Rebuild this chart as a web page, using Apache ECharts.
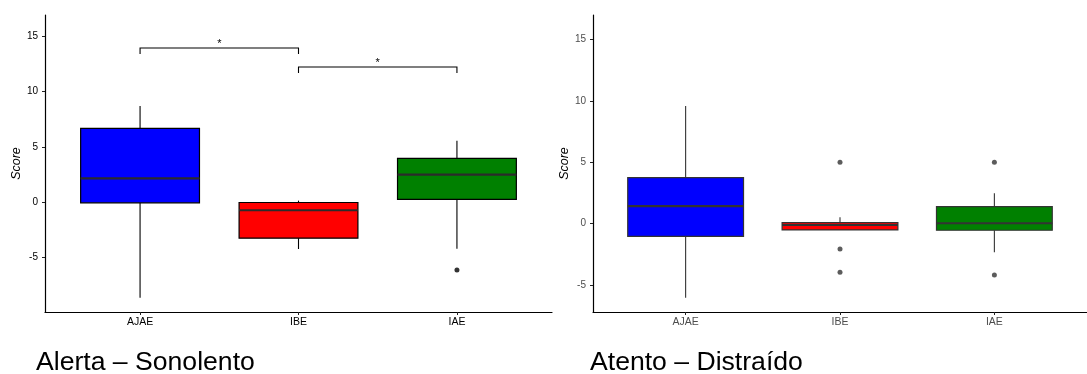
<!DOCTYPE html>
<html>
<head>
<meta charset="utf-8">
<script src="https://cdn.jsdelivr.net/npm/echarts@6/dist/echarts.min.js"></script>
<style>
  html, body { margin: 0; padding: 0; background: #ffffff; }
  #chart { width: 1087px; height: 374px; }
</style>
</head>
<body>
<div id="chart"></div>
<script>
// Groups shown on the x axis (positions 1, 2, 3)
const categories = ['AJAE', 'IBE', 'IAE'];
const boxColors = ['#0000FF', '#FF0000', '#008000'];
const yTicks = [-5, 0, 5, 10, 15];

// Alerta – Sonolento: [lower whisker, Q1, median, Q3, upper whisker] per group
const alertaBoxes = [
  [-8.62, -0.05, 2.17, 6.68, 8.70],
  [-4.22, -3.24, -0.72, -0.02, 0.15],
  [-4.19, 0.27, 2.50, 3.97, 5.57]
];
// [group index, value]
const alertaOutliers = [[2, -6.12]];
// significance brackets: [from group, to group, height, label]
const alertaBrackets = [
  [0, 1, 13.94, '*'],
  [1, 2, 12.22, '*']
];

// Atento – Distraído
const atentoBoxes = [
  [-6.03, -1.03, 1.42, 3.75, 9.59],
  [-0.51, -0.51, -0.11, 0.08, 0.52],
  [-2.33, -0.54, 0.03, 1.39, 2.48]
];
const atentoOutliers = [[1, 5.0], [1, -2.06], [1, -3.96], [2, 5.0], [2, -4.18]];

const captions = ['Alerta – Sonolento', 'Atento – Distraído'];

const FONT = '"Liberation Sans", Arial, Helvetica, sans-serif';
const BOX_W = 0.75;
const TIP = 0.55;

function boxData(boxes) {
  return boxes.map((b, i) => [i + 1].concat(b));
}
function outlierData(list) {
  return list.map(o => [o[0] + 1, o[1]]);
}

function makeBoxRenderer(lineColor, medianColor) {
  return function (params, api) {
    const x = api.value(0);
    const lo = api.coord([x, api.value(1)]);
    const q1 = api.coord([x, api.value(2)]);
    const med = api.coord([x, api.value(3)]);
    const q3 = api.coord([x, api.value(4)]);
    const hi = api.coord([x, api.value(5)]);
    const half = api.size([BOX_W, 0])[0] / 2;
    const fill = boxColors[params.dataIndex];
    return {
      type: 'group',
      children: [
        { type: 'line', shape: { x1: hi[0], y1: hi[1], x2: q3[0], y2: q3[1] },
          style: { stroke: lineColor, lineWidth: 1.1 } },
        { type: 'line', shape: { x1: q1[0], y1: q1[1], x2: lo[0], y2: lo[1] },
          style: { stroke: lineColor, lineWidth: 1.1 } },
        { type: 'rect', shape: { x: q3[0] - half, y: q3[1], width: 2 * half, height: q1[1] - q3[1] },
          style: { fill: fill, stroke: lineColor, lineWidth: 1.2 } },
        { type: 'line', shape: { x1: med[0] - half, y1: med[1], x2: med[0] + half, y2: med[1] },
          style: { stroke: medianColor, lineWidth: 2.2 } }
      ]
    };
  };
}

function renderBracket(params, api) {
  const x1 = api.value(0), x2 = api.value(1), y = api.value(2);
  const a = api.coord([x1, y - TIP]);
  const b = api.coord([x1, y]);
  const c = api.coord([x2, y]);
  const d = api.coord([x2, y - TIP]);
  return {
    type: 'group',
    children: [
      { type: 'polyline', shape: { points: [a, b, c, d] },
        style: { stroke: '#000', lineWidth: 1.1, fill: null } },
      { type: 'text', x: (b[0] + c[0]) / 2, y: b[1] + 1,
        style: { text: alertaBrackets[params.dataIndex][3], fill: '#000',
                 font: '11px ' + FONT, align: 'center', verticalAlign: 'bottom' } }
    ]
  };
}

function xAxis(gridIndex, labelColor) {
  return {
    type: 'value', gridIndex: gridIndex, min: 0.4, max: 3.6,
    splitLine: { show: false },
    axisLine: { show: true, onZero: false, lineStyle: { color: '#000', width: 1.2 } },
    axisTick: { show: true, customValues: [1, 2, 3], length: 3, lineStyle: { color: '#222', width: 1 } },
    axisLabel: {
      customValues: [1, 2, 3], margin: 5, color: labelColor, fontSize: 10.5, fontFamily: FONT,
      formatter: v => categories[Math.round(v) - 1] || ''
    }
  };
}

function yAxis(gridIndex, min, max, labelColor) {
  return {
    type: 'value', gridIndex: gridIndex, min: min, max: max,
    name: 'Score', nameLocation: 'middle', nameGap: 22,
    nameTextStyle: { fontStyle: 'italic', fontSize: 12.5, color: '#000', fontFamily: FONT },
    splitLine: { show: false },
    axisLine: { show: true, onZero: false, lineStyle: { color: '#000', width: 1.2 } },
    axisTick: { show: true, customValues: yTicks, length: 3, lineStyle: { color: '#222', width: 1 } },
    axisLabel: { customValues: yTicks, margin: 7, color: labelColor, fontSize: 10, fontFamily: FONT }
  };
}

const chart = echarts.init(document.getElementById('chart'), null, { renderer: 'canvas' });

chart.setOption({
  animation: false,
  backgroundColor: '#ffffff',
  grid: [
    { left: 45, right: 535, top: 15, bottom: 62 },
    { left: 593, right: -13, top: 15, bottom: 62 }
  ],
  xAxis: [xAxis(0, '#000'), xAxis(1, '#4D4D4D')],
  yAxis: [yAxis(0, -9.91, 16.92, '#000'), yAxis(1, -7.2, 17.0, '#4D4D4D')],
  graphic: [
    { type: 'text', left: 36, top: 349,
      style: { text: captions[0], font: '26.6px ' + FONT, fill: '#000' } },
    { type: 'text', left: 590, top: 349,
      style: { text: captions[1], font: '26.6px ' + FONT, fill: '#000' } }
  ],
  series: [
    { type: 'custom', xAxisIndex: 0, yAxisIndex: 0,
      renderItem: makeBoxRenderer('#000', '#2b2b2b'),
      encode: { x: 0, y: [1, 2, 3, 4, 5] },
      data: boxData(alertaBoxes) },
    { type: 'scatter', xAxisIndex: 0, yAxisIndex: 0, symbolSize: 5,
      itemStyle: { color: '#000' }, data: outlierData(alertaOutliers) },
    { type: 'custom', xAxisIndex: 0, yAxisIndex: 0,
      renderItem: renderBracket,
      encode: { x: [0, 1], y: 2 },
      data: alertaBrackets.map(b => [b[0] + 1, b[1] + 1, b[2]]) },
    { type: 'custom', xAxisIndex: 1, yAxisIndex: 1,
      renderItem: makeBoxRenderer('#333333', '#333333'),
      encode: { x: 0, y: [1, 2, 3, 4, 5] },
      data: boxData(atentoBoxes) },
    { type: 'scatter', xAxisIndex: 1, yAxisIndex: 1, symbolSize: 5,
      itemStyle: { color: '#333333' }, data: outlierData(atentoOutliers) }
  ]
});
</script>
</body>
</html>
